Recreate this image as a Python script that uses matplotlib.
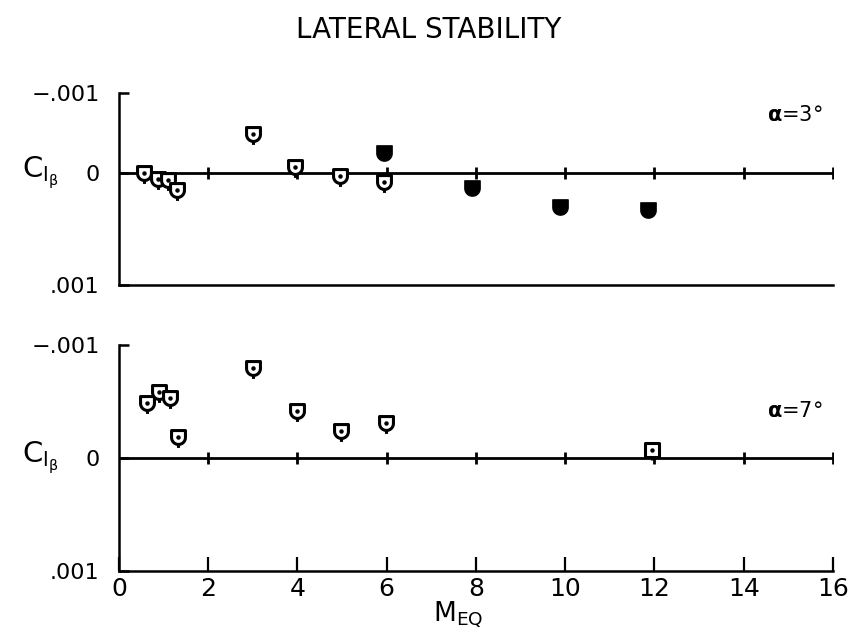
import numpy as np
import matplotlib
matplotlib.use('Agg')
import matplotlib.pyplot as plt
from matplotlib.path import Path

plt.rcParams['font.family'] = ['DejaVu Sans']
plt.rcParams['mathtext.fontset'] = 'dejavusans'

# 数据：alpha = 3 deg
m3_open = [0.56, 0.87, 1.09, 1.29, 3.0, 3.95, 4.96, 5.95]
cl3_open = [0.0, 0.00005, 0.00006, 0.00015, -0.00049, -0.000075, 0.00003, 0.00008]
m3_solid = [5.95, 7.92, 9.89, 11.85]
cl3_solid = [-0.00025, 0.00013, 0.0003, 0.00033]

# 数据：alpha = 7 deg
m7_open = [0.62, 0.89, 1.14, 1.32, 3.0, 4.0, 4.98, 5.98]
cl7_open = [-0.00049, -0.00058, -0.00053, -0.00019, -0.0008, -0.00042, -0.00024, -0.00031]
m7_square = [11.94]
cl7_square = [-0.00007]

xticks = [0, 2, 4, 6, 8, 10, 12, 14, 16]
yticks = [-0.001, 0, 0.001]
ytick_labels = ['\u2212.001', '0', '.001']


def shield(tail=True):
    # 盾形符号：方顶、圆底，可带短尾
    t = np.linspace(0, -np.pi, 25)
    verts = [(-1, 1), (1, 1), (1, 0)]
    verts += list(zip(np.cos(t), np.sin(t)))
    verts += [(-1, 1)]
    codes = [Path.MOVETO] + [Path.LINETO] * (len(verts) - 2) + [Path.CLOSEPOLY]
    if tail:
        verts += [(0, -1), (0, -1.5)]
        codes += [Path.MOVETO, Path.LINETO]
    return Path(verts, codes)


def square_tail():
    verts = [(-1, 1), (1, 1), (1, -1), (-1, -1), (-1, 1), (0, -1), (0, -1.5)]
    codes = [Path.MOVETO, Path.LINETO, Path.LINETO, Path.LINETO, Path.CLOSEPOLY,
             Path.MOVETO, Path.LINETO]
    return Path(verts, codes)


# 上图刻度不均匀：-.001 到 0 比 0 到 .001 短
k = 80 / 112


def fwd(y):
    y = np.asarray(y, dtype=float)
    return np.where(y < 0, y * k, y)


def inv(y):
    y = np.asarray(y, dtype=float)
    return np.where(y < 0, y / k, y)


fig = plt.figure(figsize=(8.48, 6.37), dpi=100)
ax1 = fig.add_axes([0.1403, 0.5526, 0.842, 0.3014])
ax2 = fig.add_axes([0.1403, 0.1036, 0.842, 0.3548])

for ax in (ax1, ax2):
    ax.set_xlim(0, 16)
    ax.set_ylim(0.001, -0.001)
    ax.spines['top'].set_visible(False)
    ax.spines['right'].set_visible(False)
    ax.spines['left'].set_linewidth(1.8)
    ax.spines['bottom'].set_linewidth(1.8)
    ax.axhline(0, color='black', lw=2.0, zorder=1)
    ax.plot(xticks[1:], [0] * (len(xticks) - 1), ls='none', marker='|',
            ms=9, mew=2.0, color='black', zorder=1)
    ax.set_yticks(yticks)
    ax.set_yticklabels(ytick_labels)
    ax.tick_params(axis='y', direction='in', length=7, width=1.8, pad=14,
                   labelsize=16)
    ax.set_xticks(xticks)

ax1.set_yscale('function', functions=(fwd, inv))
ax1.set_ylim(0.001, -0.001)
ax1.set_yticks(yticks)
ax1.set_yticklabels(ytick_labels)
ax1.tick_params(axis='x', bottom=False, labelbottom=False)
ax2.tick_params(axis='x', direction='in', length=10, width=1.6, pad=4,
                labelsize=18)

open_kw = dict(ls='none', mfc='white', mec='black', mew=2.2, zorder=3)

ax1.plot(m3_open, cl3_open, marker=shield(), ms=15, **open_kw)
ax1.plot(m3_open, cl3_open, ls='none', marker='o', ms=2.2, color='black', zorder=4)
ax1.plot(m3_solid, cl3_solid, ls='none', marker=shield(False), ms=11,
         color='black', zorder=3)

ax2.plot(m7_open, cl7_open, marker=shield(), ms=15, **open_kw)
ax2.plot(m7_square, cl7_square, marker=square_tail(), ms=15, **open_kw)
ax2.plot(m7_open + m7_square, cl7_open + cl7_square, ls='none', marker='o',
         ms=2.2, color='black', zorder=4)

ax1.text(0.985, 0.885, r'$\mathbf{\alpha}$=3°', transform=ax1.transAxes,
         ha='right', va='center', fontsize=15)
ax2.text(0.985, 0.71, r'$\mathbf{\alpha}$=7°', transform=ax2.transAxes,
         ha='right', va='center', fontsize=15)

for ax in (ax1, ax2):
    ax.text(-0.11, fwd(0) if ax is ax1 else 0, r'$\mathregular{C_{l_{\beta}}}$',
            transform=ax.get_yaxis_transform(), ha='center', va='center',
            fontsize=21)

fig.text(0.505, 0.953, 'LATERAL STABILITY', ha='center', va='center',
         fontsize=20)
fig.text(0.54, 0.035, r'$\mathregular{M_{EQ}}$', ha='center', va='center',
         fontsize=19)

plt.savefig('out.png', dpi=100)
plt.close()
